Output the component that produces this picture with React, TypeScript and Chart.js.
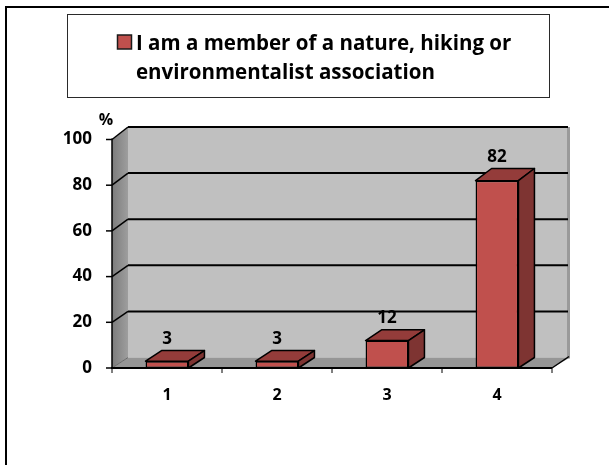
import React, { useEffect, useRef } from "react";
import { Chart, registerables } from "chart.js";

Chart.register(...registerables);

const categories = ["1", "2", "3", "4"];
const values = [3, 3, 12, 82];
const seriesLabelLines = ["I am a member of a nature, hiking or", "environmentalist association"];
const yTicks = [0, 20, 40, 60, 80, 100];
const yUnit = "%";

const FONT = "'Open Sans', Lato, sans-serif";
const DX = 16;
const DY0 = -10.5;
const DY1 = -12.5;

function poly(ctx: CanvasRenderingContext2D, pts: number[][], fill: any, stroke?: string, lw = 1.5) {
  ctx.beginPath();
  ctx.moveTo(pts[0][0], pts[0][1]);
  for (let i = 1; i < pts.length; i++) ctx.lineTo(pts[i][0], pts[i][1]);
  ctx.closePath();
  if (fill) {
    ctx.fillStyle = fill;
    ctx.fill();
  }
  if (stroke) {
    ctx.strokeStyle = stroke;
    ctx.lineWidth = lw;
    ctx.lineJoin = "round";
    ctx.stroke();
  }
}

function line(ctx: CanvasRenderingContext2D, x1: number, y1: number, x2: number, y2: number, lw = 2, color = "#000") {
  ctx.beginPath();
  ctx.moveTo(x1, y1);
  ctx.lineTo(x2, y2);
  ctx.strokeStyle = color;
  ctx.lineWidth = lw;
  ctx.stroke();
}

const threeDPlugin = {
  id: "threeD",
  beforeDatasetsDraw(chart: any) {
    const { ctx, chartArea: a, scales } = chart;
    const y = scales.y;
    const L = a.left, R = a.right, T = a.top, B = a.bottom;
    const by = (v: number) => y.getPixelForValue(v) + DY0 + ((DY1 - DY0) * v) / 100;
    ctx.save();
    // back wall
    ctx.fillStyle = "#C0C0C0";
    ctx.fillRect(L + DX, by(100), R - L, by(0) - by(100));
    ctx.fillStyle = "#9A9A9A";
    ctx.fillRect(R + DX - 1, by(100), 3, by(0) - by(100) + 1);
    // left wall
    const g = ctx.createLinearGradient(L, 0, L + DX, 0);
    g.addColorStop(0, "#7C7C7C");
    g.addColorStop(1, "#9E9E9E");
    poly(ctx, [[L, T], [L + DX, by(100)], [L + DX, by(0)], [L, B]], g);
    // floor
    poly(ctx, [[L, B], [L + DX, by(0)], [R + DX + 2, by(0)], [R, B]], "#969696");
    // grid lines
    yTicks.forEach((v) => {
      const fy = y.getPixelForValue(v);
      if (v > 0) {
        line(ctx, L + DX, by(v), R + DX, by(v), 2);
        line(ctx, L, fy, L + DX, by(v), 1.5);
      }
      line(ctx, L - 6, fy, L, fy, 1.5);
    });
    line(ctx, L, B, L + DX, by(0), 1, "#6a6a6a");
    // axes
    line(ctx, L, T - 1, L, B, 1.5);
    line(ctx, L - 1, B, R, B, 2);
    line(ctx, R, B, R + DX + 1, by(0) - 1, 1.5);
    const n = categories.length;
    for (let i = 0; i <= n; i++) {
      const xp = L + (i * (R - L)) / n;
      line(ctx, xp, B, xp, B + 5, 1);
    }
    ctx.restore();
  },
  afterDatasetsDraw(chart: any) {
    const { ctx } = chart;
    const meta = chart.getDatasetMeta(0);
    ctx.save();
    meta.data.forEach((bar: any, i: number) => {
      const p = bar.getProps(["x", "y", "base", "width"], true);
      const l = p.x - p.width / 2;
      const r = p.x + p.width / 2;
      const v = values[i];
      const dyT = DY0 + ((DY1 - DY0) * v) / 100;
      poly(ctx, [[l, p.y], [l + DX, p.y + dyT], [r + DX, p.y + dyT], [r, p.y]], "#943C3A", "#000", 1.5);
      poly(ctx, [[r, p.y], [r + DX, p.y + dyT], [r + DX, p.base + DY0], [r, p.base]], "#7E3432", "#000", 1.5);
      ctx.fillStyle = "#000";
      ctx.font = `bold 17px ${FONT}`;
      ctx.textAlign = "center";
      ctx.textBaseline = "middle";
      ctx.fillText(String(v), p.x, p.y + dyT - 11.5);
    });
    ctx.restore();
  },
  afterDraw(chart: any) {
    const { ctx } = chart;
    ctx.save();
    // outer frame
    ctx.fillStyle = "#000";
    ctx.fillRect(5, 6, 2, 459);
    ctx.fillRect(5, 6, 604, 2);
    // legend box
    ctx.fillStyle = "#fff";
    ctx.fillRect(67.5, 14.5, 482, 83);
    ctx.strokeStyle = "#2a2a2a";
    ctx.lineWidth = 1;
    ctx.strokeRect(67.5, 14.5, 482, 83);
    ctx.fillStyle = "#C0504D";
    ctx.fillRect(117.5, 35, 14, 14);
    ctx.strokeStyle = "#1a1a1a";
    ctx.lineWidth = 1.5;
    ctx.strokeRect(117.5, 35, 14, 14);
    ctx.fillStyle = "#000";
    ctx.font = `bold 20.5px ${FONT}`;
    ctx.textAlign = "left";
    ctx.textBaseline = "alphabetic";
    ctx.fillText(seriesLabelLines[0], 136, 49.5);
    ctx.fillText(seriesLabelLines[1], 136, 78.5);
    // unit
    ctx.font = `bold 16px ${FONT}`;
    ctx.textAlign = "center";
    ctx.textBaseline = "middle";
    ctx.fillText(yUnit, 106, 120);
    ctx.restore();
  },
};

export default function App() {
  const ref = useRef<HTMLCanvasElement | null>(null);
  useEffect(() => {
    if (!ref.current) return;
    const chart = new Chart(ref.current, {
      type: "bar",
      data: {
        labels: categories,
        datasets: [
          {
            label: seriesLabelLines.join(" "),
            data: values,
            backgroundColor: "#C0504D",
            borderColor: "#000",
            borderWidth: 1.5,
            borderSkipped: false,
            barPercentage: 0.39,
            categoryPercentage: 1,
          },
        ],
      },
      options: {
        responsive: false,
        animation: false,
        layout: { padding: { left: 52, right: 57, top: 139.5, bottom: 0 } },
        plugins: { legend: { display: false }, tooltip: { enabled: false } },
        scales: {
          x: {
            grid: { display: false, drawTicks: false },
            border: { display: false },
            ticks: { color: "#000", font: { family: FONT, size: 16, weight: "bold" }, padding: 18 },
            afterFit: (s: any) => {
              s.height = 97;
            },
          },
          y: {
            min: 0,
            max: 100,
            grid: { display: false, drawTicks: false },
            border: { display: false },
            ticks: { stepSize: 20, color: "#000", font: { family: FONT, size: 17, weight: "bold" }, padding: 20 },
            afterFit: (s: any) => {
              s.width = 60;
            },
          },
        },
      },
      plugins: [threeDPlugin],
    } as any);
    return () => chart.destroy();
  }, []);
  return (
    <div style={{ position: "fixed", left: 0, top: 0, width: 609, height: 465, background: "#fff" }}>
      <canvas ref={ref} width={609} height={465} />
    </div>
  );
}
